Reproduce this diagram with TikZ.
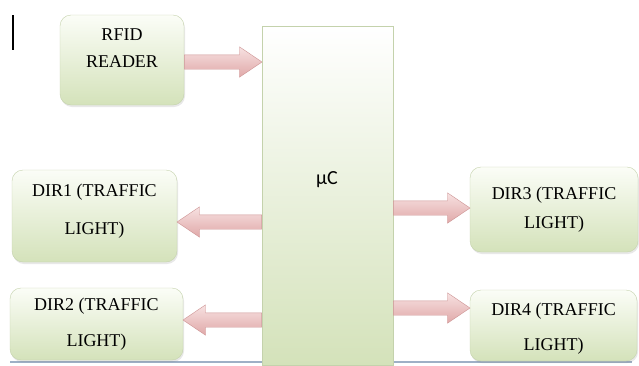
\documentclass[tikz,border=0pt]{standalone}
\usepackage{fontspec}
\setmainfont{Liberation Serif}
\newfontfamily\ucfont{Carlito}
\usetikzlibrary{shapes.arrows, shadows, calc}
\definecolor{boxtop}{RGB}{251,253,247}
\definecolor{boxbot}{RGB}{212,226,186}
\definecolor{boxline}{RGB}{196,210,172}
\definecolor{arrtop}{RGB}{247,226,226}
\definecolor{arrbot}{RGB}{224,168,168}
\definecolor{arrline}{RGB}{205,148,148}
\definecolor{groundline}{RGB}{158,176,198}

\begin{document}
\begin{tikzpicture}[x=1pt, y=1pt,
    lightbox/.style = {rounded corners=11pt, draw=boxline, top color=boxtop, bottom color=boxbot,
                       align=center, font=\fontsize{18}{21.6}\selectfont,
                       drop shadow={opacity=0.18, shadow xshift=1pt, shadow yshift=-2pt}},
    blockarrow/.style = {single arrow, draw=arrline, top color=arrtop, bottom color=arrbot,
                         inner xsep=0pt, inner ysep=7pt, single arrow head extend=8pt,
                         single arrow tip angle=68, anchor=tail}]
    \useasboundingbox (0,0) rectangle (639,-365);

    % line along the bottom, behind the controller
    \draw[groundline, line width=1.5pt] (10,-362) -- (632,-362);
    % the mark at the top left
    \draw[line width=1.6pt] (13,-15) -- (13,-50);

    % controller
    \node[draw=boxline, top color=white, bottom color=boxbot, minimum width=131pt,
          minimum height=339pt, inner sep=0pt] (uc) at (327.5,-195.5) {};
    \node (uctext) at (327,-180) {\ucfont\fontsize{20}{24}\selectfont µC};

    % blocks round it
    \node[lightbox, minimum width=124pt, minimum height=90pt] (rfid) at (122,-60)
        {RFID\\[5.4pt]READER\\[3pt]\mbox{}};
    \node[lightbox, minimum width=165pt, minimum height=92pt] (dir1) at (94.5,-216)
        {DIR1 (TRAFFIC\\[16pt]LIGHT)\\[-8pt]\mbox{}};
    \node[lightbox, minimum width=173pt, minimum height=72pt] (dir2) at (96.5,-324)
        {DIR2 (TRAFFIC\\[14pt]LIGHT)};
    \node[lightbox, minimum width=168pt, minimum height=85pt] (dir3) at (554,-209.5)
        {DIR3 (TRAFFIC\\[7pt]LIGHT)};
    \node[lightbox, minimum width=167pt, minimum height=71pt] (dir4) at (553.5,-325.5)
        {\mbox{}\\[-3pt]DIR4 (TRAFFIC\\[14pt]LIGHT)};

    % block arrows
    \path let \p1 = (rfid.east), \p2 = (uc.west) in
        node[blockarrow, minimum height=\x2-\x1] (toUC) at (\x1,-62) {};
    \foreach \dest/\ypos in {dir1/-222, dir2/-320}{
        \path let \p1 = (\dest.east), \p2 = (uc.west) in
            node[blockarrow, shape border rotate=180, minimum height=\x2-\x1] (to\dest) at (\x2,\ypos) {};
    }
    \foreach \dest/\ypos in {dir3/-208, dir4/-308}{
        \path let \p1 = (uc.east), \p2 = (\dest.west) in
            node[blockarrow, minimum height=\x2-\x1] (to\dest) at (\x1,\ypos) {};
    }
\end{tikzpicture}
\end{document}
